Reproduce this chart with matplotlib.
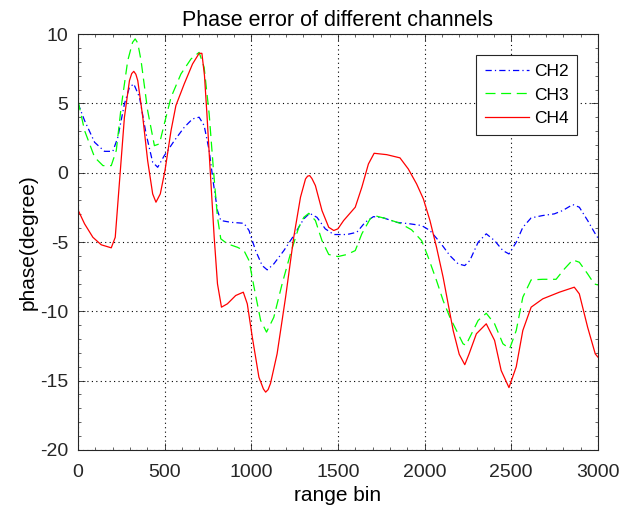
import matplotlib
matplotlib.use('Agg')
import matplotlib.pyplot as plt
from matplotlib.ticker import AutoMinorLocator

plt.rcParams['font.family'] = ['Liberation Sans', 'DejaVu Sans']
plt.rcParams['axes.unicode_minus'] = False

# phase error curves (range bin, degree)
ch2_x = [0, 38, 96, 153, 201, 230, 268, 297, 322, 355, 393, 431, 460, 498, 556, 613,
         661, 699, 728, 757, 782, 805, 824, 882, 958, 987, 1025, 1063, 1092, 1130, 1188,
         1245, 1303, 1337, 1379, 1427, 1476, 1552, 1609, 1657, 1705, 1763, 1839, 1916,
         1983, 2031, 2089, 2146, 2194, 2232, 2261, 2309, 2356, 2404, 2452, 2487, 2529,
         2567, 2615, 2682, 2749, 2797, 2855, 2893, 2941, 2985, 3000]
ch2_y = [5.0, 3.76, 2.19, 1.54, 1.54, 2.55, 4.96, 6.16, 6.4, 5.44, 2.8, 0.75, 0.39, 1.23,
         2.31, 3.27, 3.88, 4.0, 3.4, 1.6, -0.81, -2.73, -3.45, -3.58, -3.65, -4.17, -5.62,
         -6.7, -7.01, -6.58, -5.62, -4.54, -3.33, -2.93, -3.22, -4.05, -4.46, -4.46, -4.3,
         -3.58, -3.17, -3.26, -3.58, -3.69, -3.81, -4.17, -5.02, -5.98, -6.58, -6.7, -6.34,
         -5.02, -4.41, -4.9, -5.62, -5.86, -5.02, -3.94, -3.26, -3.09, -2.97, -2.73, -2.3,
         -2.49, -3.45, -4.41, -4.7]

ch3_x = [0, 38, 96, 144, 192, 221, 249, 287, 315, 330, 345, 364, 402, 441, 470, 498, 537,
         594, 652, 699, 728, 757, 782, 805, 824, 862, 920, 958, 987, 1016, 1054, 1088,
         1130, 1178, 1226, 1274, 1303, 1332, 1370, 1408, 1447, 1500, 1552, 1600, 1638,
         1686, 1715, 1782, 1858, 1925, 1983, 2021, 2069, 2107, 2146, 2184, 2222, 2238,
         2261, 2309, 2356, 2404, 2452, 2491, 2529, 2567, 2615, 2682, 2759, 2807, 2855,
         2893, 2941, 2979, 3000]
ch3_y = [5.2, 3.04, 1.11, 0.51, 0.51, 1.6, 4.72, 8.08, 9.4, 9.65, 9.35, 8.08, 4.48, 1.95,
         2.08, 3.52, 5.44, 7.12, 8.2, 8.68, 7.6, 4.24, 0.15, -3.22, -4.77, -5.13, -5.38,
         -5.62, -6.34, -8.26, -10.66, -11.5, -10.43, -8.02, -5.85, -3.94, -3.22, -2.93,
         -3.45, -4.9, -5.9, -6.05, -5.9, -5.62, -4.41, -3.33, -3.11, -3.33, -3.65, -4.12,
         -4.9, -6.1, -7.78, -9.22, -10.43, -11.38, -12.34, -12.45, -11.87, -10.66, -10.14,
         -10.9, -12.34, -12.7, -11.38, -8.98, -7.73, -7.69, -7.69, -6.94, -6.29, -6.46,
         -7.3, -8.02, -8.1]

ch4_x = [0, 38, 86, 134, 192, 215, 240, 268, 297, 310, 322, 334, 345, 374, 402, 431, 450,
         475, 502, 537, 565, 613, 661, 699, 715, 730, 744, 763, 786, 805, 828, 862, 910,
         954, 977, 1006, 1044, 1070, 1083, 1097, 1111, 1149, 1198, 1245, 1284, 1313, 1325,
         1337, 1350, 1370, 1408, 1447, 1476, 1500, 1533, 1600, 1638, 1676, 1709, 1782,
         1858, 1906, 1954, 1993, 2031, 2069, 2107, 2136, 2165, 2200, 2232, 2256, 2299,
         2356, 2404, 2442, 2487, 2529, 2567, 2615, 2682, 2778, 2864, 2893, 2941, 2985, 3000]
ch4_y = [-2.68, -3.69, -4.66, -5.2, -5.42, -4.66, -0.57, 4.0, 6.64, 7.15, 7.31, 7.1, 6.64,
         4.0, 0.87, -1.53, -2.13, -1.53, 0.15, 3.04, 4.84, 6.4, 7.84, 8.61, 8.61, 7.0,
         4.24, 0.15, -4.66, -8.02, -9.7, -9.46, -8.86, -8.62, -9.46, -11.87, -14.75,
         -15.6, -15.83, -15.65, -15.2, -13.07, -8.98, -4.66, -1.77, -0.45, -0.25, -0.21,
         -0.42, -0.93, -2.73, -3.94, -4.17, -4.05, -3.45, -2.49, -1.05, 0.63, 1.4, 1.3,
         1.07, 0.27, -0.81, -1.89, -3.45, -5.38, -7.54, -9.46, -11.38, -13.1, -13.85,
         -13.1, -11.62, -10.9, -12.1, -14.27, -15.5, -14.0, -11.38, -9.7, -9.1, -8.62,
         -8.26, -8.74, -11.15, -13.07, -13.3]

fig = plt.figure(figsize=(6.34, 5.16), dpi=100)
ax = fig.add_axes([0.123, 0.128, 0.820, 0.806])

ax.plot(ch2_x, ch2_y, color='#0000ff', lw=0.9, dashes=(5, 2.5, 1, 2.5), label='CH2')
ax.plot(ch3_x, ch3_y, color='#00ff00', lw=0.9, dashes=(8, 4.5), label='CH3')
ax.plot(ch4_x, ch4_y, color='#ff0000', lw=0.9, label='CH4')

ax.set_xlim(0, 3000)
ax.set_ylim(-20, 10)
ax.set_xticks(range(0, 3001, 500))
ax.set_yticks(range(-20, 11, 5))
ax.xaxis.set_minor_locator(AutoMinorLocator(5))
ax.yaxis.set_minor_locator(AutoMinorLocator(5))
ax.tick_params(which='both', direction='in', top=True, right=True, labelsize=14,
               colors='#262626')
ax.tick_params(which='major', length=5, width=0.6)
ax.tick_params(which='minor', length=2.5, width=0.5)
ax.tick_params(axis='x', which='major', pad=10)
ax.tick_params(axis='y', which='major', pad=7)
ax.grid(True, which='major', linestyle=(0, (1, 3)), color='black', linewidth=0.8)
for s in ax.spines.values():
    s.set_linewidth(0.8)
    s.set_color('#262626')

ax.set_title('Phase error of different channels', fontsize=15.5, pad=6)
ax.set_xlabel('range bin', fontsize=15, labelpad=4)
ax.set_ylabel('phase(degree)', fontsize=15, labelpad=2)

leg = ax.legend(loc='upper right', bbox_to_anchor=(0.96, 0.95), borderaxespad=0,
                fontsize=12.5, handlelength=2.5, handletextpad=0.3, borderpad=0.5,
                labelspacing=0.5, fancybox=False, framealpha=1, edgecolor='#262626')
leg.get_frame().set_linewidth(0.8)

fig.savefig('out.png', dpi=100)
